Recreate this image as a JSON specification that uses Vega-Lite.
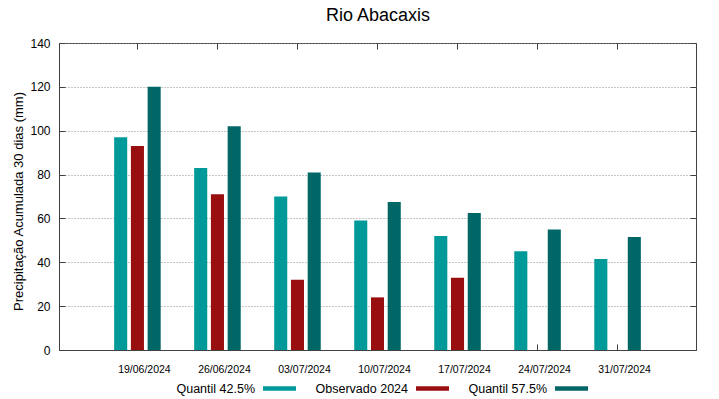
{
  "$schema": "https://vega.github.io/schema/vega-lite/v6.json",
  "width": 637,
  "height": 307,
  "autosize": {"type": "none"},
  "padding": {"left": 59, "top": 43, "right": 23, "bottom": 49},
  "background": "white",
  "config": {
    "font": "Liberation Sans",
    "view": {"stroke": "#404040", "strokeWidth": 1}
  },
  "data": {
    "values": [
      {"data": "19/06/2024", "serie": "Quantil 42.5%", "valor": 97},
      {"data": "19/06/2024", "serie": "Observado 2024", "valor": 93},
      {"data": "19/06/2024", "serie": "Quantil 57.5%", "valor": 120},
      {"data": "26/06/2024", "serie": "Quantil 42.5%", "valor": 83},
      {"data": "26/06/2024", "serie": "Observado 2024", "valor": 71},
      {"data": "26/06/2024", "serie": "Quantil 57.5%", "valor": 102},
      {"data": "03/07/2024", "serie": "Quantil 42.5%", "valor": 70},
      {"data": "03/07/2024", "serie": "Observado 2024", "valor": 32},
      {"data": "03/07/2024", "serie": "Quantil 57.5%", "valor": 81},
      {"data": "10/07/2024", "serie": "Quantil 42.5%", "valor": 59},
      {"data": "10/07/2024", "serie": "Observado 2024", "valor": 24},
      {"data": "10/07/2024", "serie": "Quantil 57.5%", "valor": 67.5},
      {"data": "17/07/2024", "serie": "Quantil 42.5%", "valor": 52},
      {"data": "17/07/2024", "serie": "Observado 2024", "valor": 33},
      {"data": "17/07/2024", "serie": "Quantil 57.5%", "valor": 62.5},
      {"data": "24/07/2024", "serie": "Quantil 42.5%", "valor": 45},
      {"data": "24/07/2024", "serie": "Quantil 57.5%", "valor": 55},
      {"data": "31/07/2024", "serie": "Quantil 42.5%", "valor": 41.5},
      {"data": "31/07/2024", "serie": "Quantil 57.5%", "valor": 51.5}
    ]
  },
  "layer": [
    {
      "mark": {"type": "bar"},
      "encoding": {
        "x": {
          "field": "data",
          "type": "nominal",
          "sort": null,
          "scale": {"type": "band", "paddingInner": 0, "paddingOuter": 0.48},
          "axis": {
            "orient": "bottom",
            "title": null,
            "labelAngle": 0,
            "labelFont": "Liberation Sans",
            "labelFontSize": 10.5,
            "labelColor": "#000000",
            "labelPadding": 20,
            "labelOffset": 7,
            "ticks": true,
            "tickSize": -6,
            "tickColor": "#404040",
            "domainColor": "#404040",
            "grid": false
          }
        },
        "xOffset": {
          "field": "serie",
          "type": "nominal",
          "sort": ["Quantil 42.5%", "Observado 2024", "Quantil 57.5%"],
          "scale": {"paddingInner": 0.22, "paddingOuter": 1.11}
        },
        "y": {
          "field": "valor",
          "type": "quantitative",
          "scale": {"domain": [0, 140], "nice": false},
          "axis": {
            "orient": "left",
            "values": [0, 20, 40, 60, 80, 100, 120, 140],
            "title": "Precipitação Acumulada 30 dias (mm)",
            "titleFont": "Liberation Sans",
            "titleFontSize": 13,
            "titleFontWeight": "normal",
            "titleColor": "#000000",
            "titlePadding": 4,
            "titleY": 158,
            "labelFont": "Liberation Sans",
            "labelFontSize": 12,
            "labelColor": "#000000",
            "labelPadding": 15,
            "tickSize": -6,
            "tickColor": "#404040",
            "domainColor": "#404040",
            "grid": true,
            "gridColor": "#8c8c8c",
            "gridDash": [1, 2],
            "gridWidth": 1
          }
        },
        "color": {
          "field": "serie",
          "type": "nominal",
          "scale": {
            "domain": ["Quantil 42.5%", "Observado 2024", "Quantil 57.5%"],
            "range": ["#009999", "#990f0f", "#006666"]
          },
          "legend": {
            "orient": "none",
            "legendX": 204,
            "legendY": 329,
            "direction": "horizontal",
            "title": null,
            "symbolType": "M-1,-0.14L1,-0.14L1,0.14L-1,0.14Z",
            "symbolSize": 1089,
            "symbolStrokeWidth": 0,
            "symbolOpacity": 1,
            "labelAlign": "right",
            "labelOffset": -41,
            "labelFont": "Liberation Sans",
            "labelFontSize": 12.5,
            "labelColor": "#000000",
            "labelLimit": 300,
            "columnPadding": 19
          }
        }
      }
    },
    {
      "mark": {"type": "bar", "opacity": 0},
      "encoding": {
        "x": {
          "field": "data",
          "type": "nominal",
          "sort": null,
          "axis": {
            "orient": "top",
            "title": "Rio Abacaxis",
            "titleFont": "Liberation Sans",
            "titleFontSize": 18,
            "titleFontWeight": "normal",
            "titleColor": "#000000",
            "titleBaseline": "alphabetic",
            "titlePadding": 22,
            "labels": false,
            "domain": false,
            "ticks": true,
            "tickSize": -6,
            "tickColor": "#404040",
            "grid": false
          }
        },
        "y": {
          "field": "valor",
          "type": "quantitative",
          "axis": {
            "orient": "right",
            "title": null,
            "labels": false,
            "domain": false,
            "values": [0, 20, 40, 60, 80, 100, 120, 140],
            "ticks": true,
            "tickSize": -6,
            "tickColor": "#404040",
            "grid": false
          }
        }
      }
    }
  ]
}
